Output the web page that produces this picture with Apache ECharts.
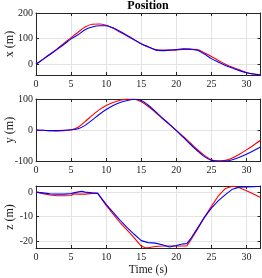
<!DOCTYPE html>
<html><head><meta charset="utf-8">
<script src="https://cdn.jsdelivr.net/npm/echarts@6/dist/echarts.min.js"></script>
<style>html,body{margin:0;padding:0;background:#fff}#c{width:262px;height:278px}</style>
</head><body><div id="c"></div>
<script>
const tXY = [0,1,2,3,4,5,6,7,8,9,10,11,12,13,14,15,16,17,18,19,20,21,22,23,24,25,26,27,28,29,30,31,32];
const xRed  = [0,20,40,60,82,104,125,145,156,157,152,140,125,110,95,80,67,57,55,55,56,58,58,57,45,30,15,0,-12,-22,-32,-38,-40];
const xBlue = [0,19,38,58,78,99,115,135,145,150,150,142,128,112,96,80,68,56,53,55,57,60,59,55,40,22,8,-5,-15,-25,-33,-38,-42];
const yRed  = [0,-1,-2,-3,-2,0,9,27,47,65,79,89,96,99.5,99,91,76,57,37,18,-1,-21,-42,-63,-82,-96,-100,-98,-90,-78,-64,-49,-33];
const yBlue = [0,-1,-2,-2,-1,1,4,15,32,50,66,79,89,95,99,95,80,60,39,19,-2,-24,-46,-67,-86,-98,-100,-100,-96,-88,-78,-67,-55];
const tZRed  = [0,1,2,3,4,5,5.5,6,7,8,8.8,10,11,12,13,14,15,15.5,16,17,18,19,20,21.5,22,23,24,25,26,27,28,29,30,31,32];
const zRed   = [0,-0.6,-1.2,-1.5,-1.5,-1.4,-0.7,-0.8,-0.8,-0.5,-0.5,-5.4,-9,-12.5,-15.5,-18.7,-22,-22.6,-22.7,-22.2,-22,-22,-22,-22,-19.8,-15.2,-10.3,-5.8,-1.5,1.5,2.4,1.8,0.6,-0.8,-2.2];
const tZBlue = [0,1,2,3,4,5,5.5,6.5,7,8,8.8,10,11,12,13,14,15,16,17,18,19,20,21,21.5,22,23,24,25,26,27,28,29,30,31,32];
const zBlue  = [0,-0.3,-0.7,-0.8,-0.8,-0.6,-0.2,0.3,0,-0.3,-0.5,-5.0,-8.3,-11.5,-14.5,-17.2,-19.8,-20.6,-20.8,-21.5,-22.4,-21.8,-21.1,-21,-19.2,-14.8,-10.3,-6.5,-3.5,-1,1.2,2.0,2.1,2.2,2.4];
const xTicks = [0,5,10,15,20,25,30];
const ticks1 = [0,100,200];
const ticks2 = [-100,0,100];
const ticks3 = [-20,-10,0];

const pair = (t, v) => t.map((ti, i) => [ti, v[i]]);
const FONT = 'Liberation Serif';
const frame = '#262626';
const grids = [
  {left: 36, right: 1.5, top: 13, height: 62, outerBoundsMode:'none', containLabel:false},
  {left: 36, right: 1.5, top: 99, height: 62, outerBoundsMode:'none', containLabel:false},
  {left: 36, right: 1.5, top: 186, height: 62, outerBoundsMode:'none', containLabel:false}
];
const xAxes = [], yAxes = [];
grids.forEach((g, i) => {
  xAxes.push({type:'value', gridIndex:i, min:0, max:32, position:'bottom',
    axisLine:{show:true, onZero:false, lineStyle:{color:frame, width:1}},
    axisTick:{show:true, inside:true, length:3, lineStyle:{color:frame}, customValues:xTicks},
    axisLabel:{show:true, color:'#1a1a1a', fontFamily:FONT, fontSize:10, margin:4, customValues:xTicks},
    splitLine:{show:true, lineStyle:{color:'#e3e3e3', width:1}},
    name: i === 2 ? 'Time (s)' : '', nameLocation:'middle', nameGap:16,
    nameTextStyle:{fontFamily:FONT, fontSize:11.5, color:'#1a1a1a'}
  });
  xAxes.push({type:'value', gridIndex:i, min:0, max:32, position:'top',
    axisLine:{show:true, onZero:false, lineStyle:{color:frame, width:1}},
    axisTick:{show:true, inside:true, length:3, lineStyle:{color:frame}, customValues:xTicks},
    axisLabel:{show:false, customValues:xTicks}, splitLine:{show:false}
  });
});
const yCfg = [
  {min:-42, max:200, ticks:ticks1, name:'x (m)'},
  {min:-100, max:100, ticks:ticks2, name:'y (m)'},
  {min:-22.8, max:2.5, ticks:ticks3, name:'z (m)'}
];
yCfg.forEach((c, i) => {
  yAxes.push({type:'value', gridIndex:i, min:c.min, max:c.max, position:'left',
    axisLine:{show:true, onZero:false, lineStyle:{color:frame, width:1}},
    axisTick:{show:true, inside:true, length:3, lineStyle:{color:frame}, customValues:c.ticks},
    axisLabel:{show:true, color:'#1a1a1a', fontFamily:FONT, fontSize:10, margin:3, customValues:c.ticks},
    splitLine:{show:true, lineStyle:{color:'#e3e3e3', width:1}},
    name:c.name, nameLocation:'middle', nameGap:20, nameRotate:90, nameMoveOverlap:false,
    nameTextStyle:{fontFamily:FONT, fontSize:12, color:'#1a1a1a'}
  });
  yAxes.push({type:'value', gridIndex:i, min:c.min, max:c.max, position:'right',
    axisLine:{show:true, onZero:false, lineStyle:{color:frame, width:1}},
    axisTick:{show:true, inside:true, length:3, lineStyle:{color:frame}, customValues:c.ticks},
    axisLabel:{show:false, customValues:c.ticks}, splitLine:{show:false}
  });
});
const mk = (data, color, gi, smooth) => ({type:'line', xAxisIndex:gi*2, yAxisIndex:gi*2, data, smooth,
  showSymbol:false, symbol:'none', lineStyle:{color, width:1.1}, itemStyle:{color}, z:3, animation:false});
const series = [
  mk(pair(tXY, xRed), '#ff0000', 0, 0.3),
  mk(pair(tXY, xBlue), '#0000ff', 0, 0.3),
  mk(pair(tXY, yRed), '#ff0000', 1, 0.3),
  mk(pair(tXY, yBlue), '#0000ff', 1, 0.3),
  mk(pair(tZRed, zRed), '#ff0000', 2, false),
  mk(pair(tZBlue, zBlue), '#0000ff', 2, false)
];
const chart = echarts.init(document.getElementById('c'), null, {renderer:'canvas'});
chart.setOption({
  animation:false,
  backgroundColor:'#fff',
  title:{text:'Position', left:148, top:0, padding:0, textAlign:'center',
    textStyle:{fontFamily:FONT, fontSize:12, fontWeight:'bold', color:'#000'}},
  grid: grids, xAxis: xAxes, yAxis: yAxes, series
});
</script></body></html>
